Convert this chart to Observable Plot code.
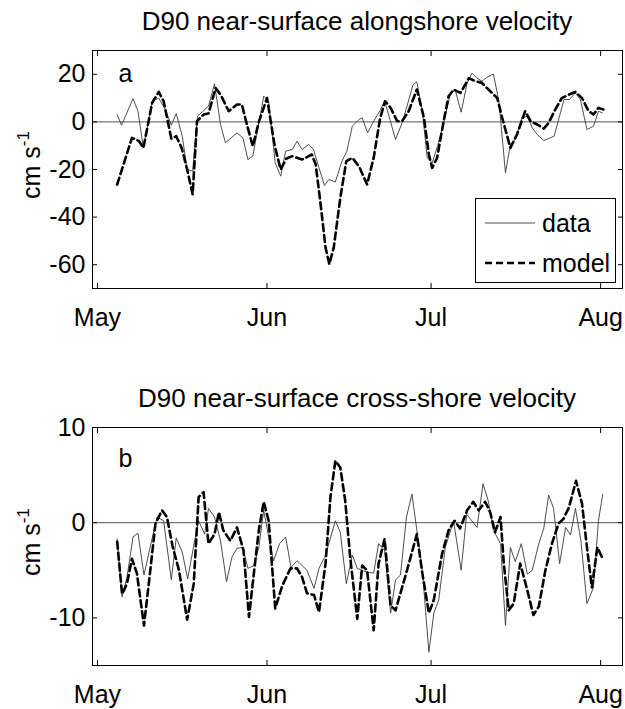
<!DOCTYPE html>
<html><head><meta charset="utf-8">
<script src="https://cdn.jsdelivr.net/npm/d3@7"></script>
<script src="https://cdn.jsdelivr.net/npm/@observablehq/plot@0.6"></script>
<style>
body{margin:0;background:#fff;}
#wrap{position:relative;width:625px;height:709px;font-family:"Liberation Sans",Arial,sans-serif;color:#000;overflow:hidden;background:#fff;}
.title{position:absolute;left:92px;width:530px;text-align:center;font-size:26px;line-height:30px;white-space:nowrap;z-index:3;}
.panel{position:absolute;left:0;z-index:1;}
#legend{position:absolute;left:475px;top:198px;z-index:4;}
</style></head>
<body><div id="wrap"></div>
<script>
// ---- data (days after 1 May; values in cm/s) ----
const alongDataDays = [3.6,4.4,6.5,7.4,8.4,10.0,11.2,12.4,13.5,14.4,15.5,16.4,17.4,18.3,20.3,21.4,22.5,23.4,25.5,26.6,27.5,28.4,30.4,31.3,32.5,33.5,34.4,35.6,36.5,37.4,38.6,39.5,40.5,41.5,42.3,43.5,44.7,45.6,46.6,47.8,48.4,49.4,50.5,51.6,52.5,53.4,54.5,55.7,56.6,57.7,58.4,59.4,60.3,61.2,62.2,63.3,64.5,65.4,66.5,67.6,68.5,69.4,70.3,71.2,72.4,73.4,74.6,75.5,76.4,77.6,78.6,79.5,80.4,81.6,82.5,83.5,84.4,85.3,86.3,87.4,88.3,89.5,90.7,91.6,92.3];
const alongDataVals = [3.1,-1.4,9.8,4.5,-10.9,8.7,10.0,5.2,-1.4,3.5,-6.0,-20.0,-20.7,2.4,6.6,16.0,-1.1,-8.8,-4.6,-6.7,-15.8,-14.4,10.8,8.7,-17.2,-22.8,-12.3,-11.6,-8.1,-11.6,-9.5,-11.6,-19.3,-26.7,-24.2,-25.2,-16.5,-12.3,-1.8,1.0,1.7,-4.6,0.3,4.5,8.7,1.7,-7.4,-0.4,6.6,15.7,16.8,4.5,-15.1,-17.2,-10.0,-0.4,11.5,13.6,4.1,16.4,20.5,18.4,17.1,18.7,20.1,8.7,-21.4,-9.5,-7.4,1.7,2.4,-2.5,-5.3,-7.8,-7.0,-6.0,1.7,9.4,9.4,12.2,9.4,-3.2,-1.8,4.5,3.8];

const alongModelDays = [3.6,6.3,7.6,8.4,10.0,11.2,12.1,13.5,14.4,15.4,16.4,17.4,18.2,19.4,20.3,21.6,22.5,24.0,25.5,26.4,27.4,28.4,29.5,31.0,32.4,33.5,34.5,35.6,37.4,39.2,39.9,40.8,41.7,42.4,43.2,44.4,45.5,46.6,47.8,49.3,50.5,51.7,52.6,53.6,54.8,55.7,56.9,58.4,59.7,60.6,61.2,62.1,63.3,64.2,65.1,66.4,67.9,69.1,70.3,71.5,73.1,74.0,75.5,76.7,78.2,79.2,80.4,81.6,82.5,83.7,84.9,86.2,87.4,88.6,89.8,90.7,91.6,92.5];
const alongModelVals = [-26.3,-6.7,-8.1,-10.9,8.0,12.6,8.7,-7.0,-6.0,-11.0,-20.0,-30.4,0.3,3.1,3.5,14.2,11.5,4.5,7.3,7.3,-1.8,-10.2,0.0,10.0,-10.0,-20.0,-15.5,-14.4,-15.8,-13.7,-17.9,-34.6,-52.8,-59.8,-52.8,-31.9,-16.5,-15.1,-18.6,-26.3,-15.1,1.7,8.7,5.9,0.3,0.3,4.5,13.6,1.7,-13.7,-19.3,-15.1,0.3,10.8,13.6,12.2,18.4,17.1,16.4,13.6,10.0,1.7,-10.9,-5.3,4.5,0.3,-1.1,-2.8,-0.4,5.2,10.0,11.5,12.6,10.0,4.5,3.1,5.9,5.2];

const crossDataDays = [3.6,4.5,5.4,6.5,7.4,8.5,9.7,10.9,12.1,13.5,14.4,15.5,16.5,17.6,18.5,19.6,20.3,21.4,22.5,23.6,24.6,25.5,26.6,27.5,28.6,29.5,30.4,31.6,32.2,33.3,34.4,35.4,36.5,38.3,39.6,40.5,41.7,43.5,44.4,45.5,46.6,47.5,48.4,49.3,50.5,51.4,52.5,53.6,54.5,55.4,56.5,57.5,58.4,59.4,60.6,61.5,62.4,63.6,65.1,66.5,67.5,69.4,70.5,71.5,72.4,73.7,74.6,75.5,76.4,77.5,78.6,79.5,80.7,81.6,82.5,83.4,84.5,85.6,86.5,87.4,88.4,89.5,90.7,91.6,92.4];
const crossDataVals = [-1.7,-7.8,-5.7,-1.5,-1.1,-5.5,-2.4,0.6,0.2,-6.0,-1.6,-3.1,-5.9,-2.4,0.2,-1.2,1.5,0.6,-1.9,-6.2,-3.6,-2.7,-2.6,-4.8,-4.5,-2.6,1.3,-2.4,-4.0,-2.2,-1.5,-4.7,-4.0,-5.0,-6.9,-4.8,-3.4,0.2,-1.0,-6.4,-3.4,-4.8,-5.0,-5.2,-5.3,-2.2,-2.9,-9.5,-6.0,-5.5,0.6,3.0,-0.8,-5.0,-13.6,-9.5,-8.1,-2.6,0.2,-5.0,0.9,-0.5,4.1,2.2,-0.8,-2.2,-10.8,-2.6,-4.1,-2.2,-5.4,-5.0,-2.2,-0.6,2.9,1.5,-4.3,-0.5,-1.3,1.5,-1.9,-8.5,-6.8,0.2,3.0];

const crossModelDays = [3.6,4.5,5.4,6.3,7.2,8.5,9.6,10.6,11.8,12.7,13.7,14.9,16.4,17.6,18.5,19.4,20.3,21.4,22.2,23.0,24.3,25.5,26.7,27.7,28.6,29.5,30.4,31.3,32.5,33.8,35.3,36.5,37.4,38.3,39.6,40.5,41.7,42.6,43.5,44.4,45.3,46.2,47.5,48.4,49.3,50.5,51.4,52.5,53.6,54.5,55.4,56.6,58.4,59.4,60.6,61.5,63.0,64.2,65.3,66.3,67.6,68.7,69.7,70.9,71.8,72.7,73.7,74.3,75.2,76.1,77.3,78.6,79.7,80.7,81.9,83.1,84.3,85.2,86.2,87.5,88.6,89.5,90.4,91.4,92.4];
const crossModelVals = [-2.0,-7.5,-6.4,-3.8,-5.3,-10.8,-5.3,-0.1,1.3,0.6,-2.4,-5.0,-10.2,-6.4,2.7,3.2,-2.2,-1.2,1.1,-0.8,-1.9,-0.5,-2.9,-9.9,-5.3,-0.8,2.2,0.2,-9.0,-6.6,-4.8,-4.8,-5.7,-7.4,-7.6,-9.4,-4.3,2.7,6.5,5.8,2.3,-3.6,-10.1,-4.5,-5.0,-11.3,-4.3,-1.7,-8.7,-9.2,-7.4,-5.0,-1.2,-5.3,-9.5,-8.1,-3.3,-0.8,0.2,-0.6,1.3,2.2,1.3,2.2,1.1,-1.0,0.6,-4.3,-9.2,-8.5,-4.3,-7.1,-9.7,-8.8,-5.0,-2.2,-0.1,0.4,1.6,4.4,2.0,-2.6,-6.8,-2.6,-3.8];

const monthTicks = ["2001-05-01","2001-06-01","2001-07-01","2001-08-01"];
const monthLabels = ["May","Jun","Jul","Aug"];
const alongTicks = [-60,-40,-20,0,20];
const crossTicks = [-10,0,10];
const titles = ["D90 near-surface alongshore velocity","D90 near-surface cross-shore velocity"];
const panelLetters = ["a","b"];
const seriesNames = ["data","model"];
const yLabelMain = "cm s";
const yLabelSup = "-1";

// ---- helpers ----
const DAY = 864e5;
const base = Date.UTC(2001, 4, 1);
const toDate = d => new Date(base + d * DAY);
const rows = (days, vals) => days.map((d, i) => ({date: toDate(d), value: vals[i]}));
const tickDates = monthTicks.map(s => new Date(s + "T00:00:00Z"));
const monthFmt = d => { const i = tickDates.findIndex(t => +t === +d); return i >= 0 ? monthLabels[i] : ""; };
const xDomain = [toDate(-0.91), toDate(96.0)];
const FONT = '"Liberation Sans", Arial, sans-serif';

function panel({dataRows, modelRows, yDomain, yTicks, letter, letterDy, height, marginTop, marginBottom, labelY}) {
  const svg = Plot.plot({
    width: 625, height, marginLeft: 92, marginRight: 3, marginTop, marginBottom,
    style: {fontFamily: FONT, fontSize: "25px", background: "transparent", color: "black", overflow: "visible"},
    x: {type: "utc", domain: xDomain},
    y: {domain: yDomain},
    marks: [
      Plot.ruleY([0], {stroke: "#555", strokeWidth: 1}),
      Plot.line(dataRows, {x: "date", y: "value", stroke: "#3a3a3a", strokeWidth: 0.9}),
      Plot.line(modelRows, {x: "date", y: "value", stroke: "black", strokeWidth: 2.6, strokeDasharray: "7,4"}),
      Plot.frame({stroke: "black", strokeWidth: 1}),
      Plot.axisX({anchor: "bottom", ticks: tickDates, tickSize: -5, tickPadding: 25, tickFormat: monthFmt, label: null}),
      Plot.axisX({anchor: "top", ticks: tickDates, tickSize: -5, tickFormat: () => "", label: null}),
      Plot.axisY({anchor: "left", ticks: yTicks, tickSize: -5, tickPadding: 12, tickFormat: d => String(d), label: null}),
      Plot.axisY({anchor: "right", ticks: yTicks, tickSize: -5, tickFormat: () => "", label: null}),
      Plot.text([letter], {text: d => d, frameAnchor: "top-left", dx: 26, dy: letterDy, fontSize: 25})
    ]
  });
  const t = d3.select(svg).append("text")
    .attr("transform", `translate(40,${labelY}) rotate(-90)`)
    .attr("text-anchor", "middle")
    .attr("font-size", 25).attr("font-family", FONT).attr("fill", "black");
  t.append("tspan").text(yLabelMain);
  t.append("tspan").attr("dy", -11).attr("font-size", 17).text(yLabelSup);
  return svg;
}

const wrap = document.getElementById("wrap");

const p1 = panel({dataRows: rows(alongDataDays, alongDataVals), modelRows: rows(alongModelDays, alongModelVals),
  yDomain: [-70, 30], yTicks: alongTicks, letter: panelLetters[0], letterDy: 14,
  height: 355, marginTop: 50, marginBottom: 67, labelY: 165});
p1.classList.add("panel"); p1.style.top = "0px";
wrap.appendChild(p1);

const p2 = panel({dataRows: rows(crossDataDays, crossDataVals), modelRows: rows(crossModelDays, crossModelVals),
  yDomain: [-15, 10], yTicks: crossTicks, letter: panelLetters[1], letterDy: 22,
  height: 354, marginTop: 72, marginBottom: 44, labelY: 542 - 355});
p2.classList.add("panel"); p2.style.top = "355px";
wrap.appendChild(p2);

const t1 = document.createElement("div");
t1.className = "title"; t1.style.top = "6px"; t1.textContent = titles[0];
wrap.appendChild(t1);

const t2 = document.createElement("div");
t2.className = "title"; t2.style.top = "383px"; t2.textContent = titles[1];
wrap.appendChild(t2);

// legend box
const lg = d3.select(wrap).append("svg").attr("id", "legend").attr("width", 141).attr("height", 85)
  .style("font-family", FONT);
lg.append("rect").attr("x", 0.5).attr("y", 0.5).attr("width", 140).attr("height", 84)
  .attr("fill", "white").attr("stroke", "black");
const styles = [{stroke: "#3a3a3a", w: 0.9, dash: null}, {stroke: "black", w: 2.6, dash: "7,4"}];
seriesNames.forEach((name, i) => {
  const cy = 25 + i * 40;
  lg.append("line").attr("x1", 10).attr("x2", 60).attr("y1", cy).attr("y2", cy)
    .attr("stroke", styles[i].stroke).attr("stroke-width", styles[i].w)
    .attr("stroke-dasharray", styles[i].dash);
  lg.append("text").attr("x", 67).attr("y", cy + 9).attr("font-size", 25).text(name);
});
</script>
</body></html>
